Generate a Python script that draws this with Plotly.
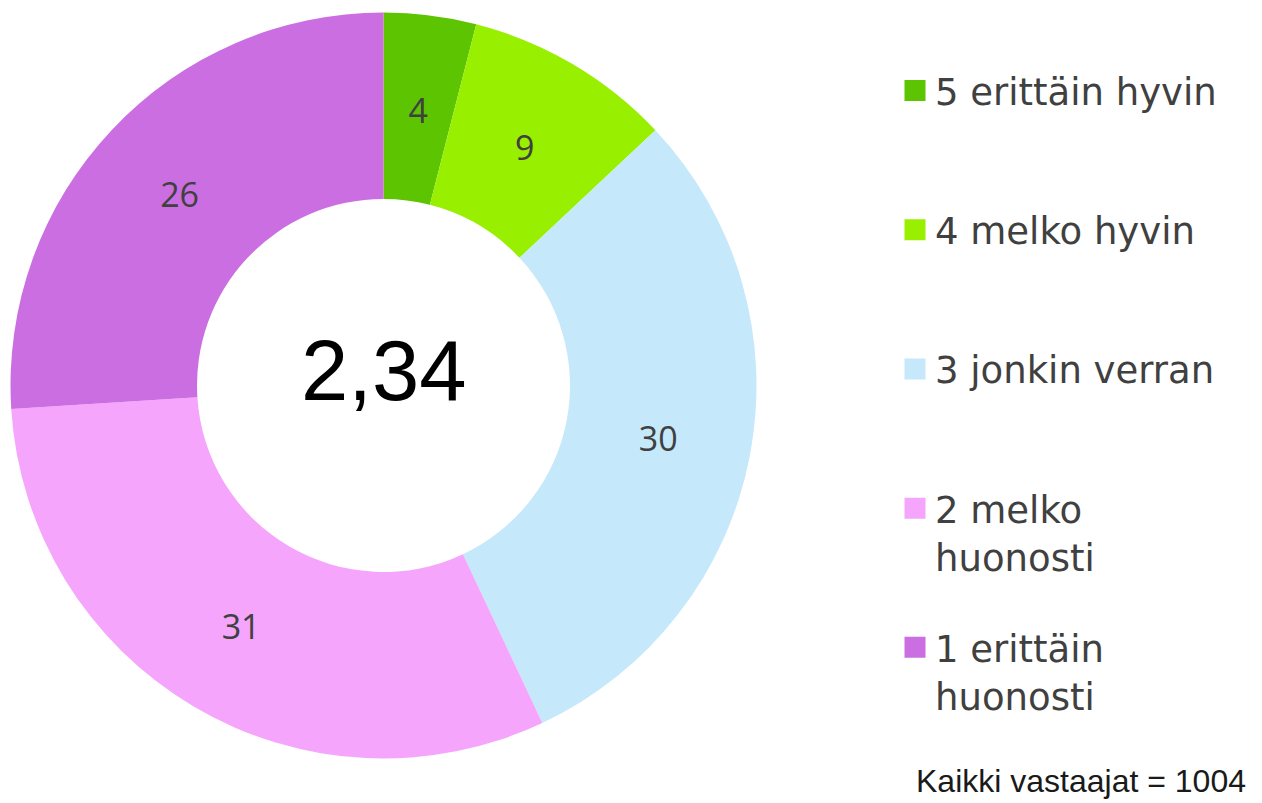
import plotly.graph_objects as go

labels = ["5 erittäin hyvin", "4 melko hyvin", "3 jonkin verran", "2 melko<br>huonosti", "1 erittäin<br>huonosti"]
values = [4, 9, 30, 31, 26]
colors = ["#5CC400", "#99EF00", "#C5E8FB", "#F5A5FB", "#CB6EE1"]
center_value = "2,34"
footnote = "Kaikki vastaajat = 1004"

W, H = 1262, 803
cx, cy, R = 383.5, 385.5, 373
R_text = 300  # transparent overlay ring that carries the labels of the narrow slices

def dom(r):
    return dict(x=[(cx - r) / W, (cx + r) / W], y=[(H - cy - r) / H, (H - cy + r) / H])

small = [v < 15 for v in values]
label_font = dict(family="Open Sans", size=34, color="#404040")

fig = go.Figure()
# coloured donut (labels of the wide slices)
fig.add_trace(go.Pie(
    labels=labels, values=values, sort=False, direction="clockwise", rotation=0,
    hole=0.5, marker=dict(colors=colors, line=dict(width=0)),
    texttemplate="%{value}", textposition=["none" if s else "inside" for s in small],
    insidetextorientation="horizontal", insidetextfont=label_font,
    showlegend=False, hoverinfo="label+value",
    domain=dom(R),
))
# same data, transparent thin ring -> keeps the narrow slices' labels mid-ring
fig.add_trace(go.Pie(
    labels=labels, values=values, sort=False, direction="clockwise", rotation=0,
    hole=0.85, marker=dict(colors=["rgba(0,0,0,0)"] * len(values), line=dict(width=0)),
    texttemplate="%{value}", textposition=["inside" if s else "none" for s in small],
    insidetextorientation="horizontal", insidetextfont=label_font,
    showlegend=False, hoverinfo="skip",
    domain=dom(R_text),
))

# legend entries (each item padded to two lines so the spacing is even)
for i, (lab, col) in enumerate(zip(labels, colors)):
    name = lab if "<br>" in lab else lab + "<br> "
    fig.add_trace(go.Scatter(
        x=[None], y=[None], mode="markers", name=name,
        marker=dict(symbol="square", size=16, color=col, line=dict(width=5, color=col)),
        legendgroup=f"g{i}", showlegend=True,
    ))

fig.add_annotation(text=center_value, x=cx / W, y=(H - cy + 15) / H, xref="paper", yref="paper",
                   showarrow=False, font=dict(family="Liberation Sans", size=85, color="#000000"),
                   xanchor="center", yanchor="middle")
fig.add_annotation(text=footnote, x=1248 / W, y=2 / H, xref="paper", yref="paper",
                   showarrow=False, font=dict(family="Liberation Sans", size=32, color="#1a1a1a"),
                   xanchor="right", yanchor="bottom")

fig.update_layout(
    width=W, height=H, margin=dict(l=0, r=0, t=0, b=0),
    paper_bgcolor="white", plot_bgcolor="white",
    xaxis=dict(visible=False), yaxis=dict(visible=False),
    uniformtext=dict(minsize=34, mode="show"),
    legend=dict(x=895 / W, y=1 - 60 / H, xanchor="left", yanchor="top",
                traceorder="grouped", tracegroupgap=40, valign="top",
                font=dict(family="DejaVu Sans", size=37, color="#404040"),
                bgcolor="rgba(0,0,0,0)", borderwidth=0),
)

fig.write_html("out.html", config={"displayModeBar": False},
               post_script="document.body.style.margin='0px';")
